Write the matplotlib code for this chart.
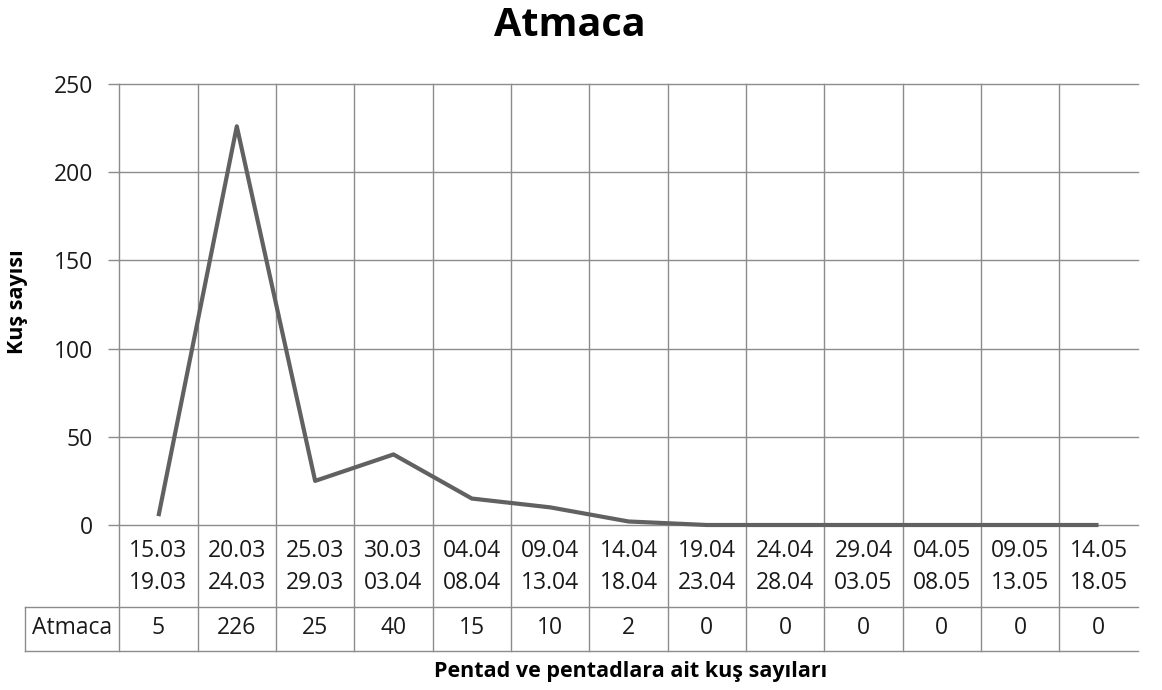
import matplotlib
matplotlib.use("Agg")
import matplotlib.pyplot as plt
import matplotlib.transforms as mtransforms

# Pentad periods (start / end) and bird counts
pentad_start = ["15.03", "20.03", "25.03", "30.03", "04.04", "09.04", "14.04",
                "19.04", "24.04", "29.04", "04.05", "09.05", "14.05"]
pentad_end = ["19.03", "24.03", "29.03", "03.04", "08.04", "13.04", "18.04",
              "23.04", "28.04", "03.05", "08.05", "13.05", "18.05"]
atmaca_counts = [5, 226, 25, 40, 15, 10, 2, 0, 0, 0, 0, 0, 0]
series_name = "Atmaca"
y_ticks = [0, 50, 100, 150, 200, 250]

FONT = ["Open Sans", "DejaVu Sans"]
plt.rcParams["font.family"] = FONT

W, H = 1162, 690
fig = plt.figure(figsize=(W / 100, H / 100), dpi=100)
fig.patch.set_facecolor("white")

left_px, right_px, top_px, bottom_px = 119.3, 1137.7, 84, 525
ax = fig.add_axes([left_px / W, (H - bottom_px) / H,
                   (right_px - left_px) / W, (bottom_px - top_px) / H])

n = len(atmaca_counts)
ax.set_xlim(-0.5, n - 0.5)
ax.set_ylim(0, 250)

grid_c = "#8c8c8c"
line_c = "#616161"
txt_c = "#1a1a1a"
FS = 16.5

# horizontal gridlines (extended left as tick marks)
ax.set_yticks(y_ticks)
ax.set_yticklabels([str(v) for v in y_ticks], fontsize=FS, color=txt_c)
ax.tick_params(axis="y", length=8, width=1.0, color=grid_c, pad=11)
for v in y_ticks:
    ax.axhline(v, color=grid_c, lw=1.0, zorder=1, clip_on=False)
ax.set_xticks([])

for s in ax.spines.values():
    s.set_visible(False)

# category boundaries: gridlines through the plot and the data table
row1_bottom = -(607 - bottom_px) / (bottom_px - top_px)
row2_bottom = -(651 - bottom_px) / (bottom_px - top_px)
trans = mtransforms.blended_transform_factory(ax.transData, ax.transAxes)
for b in range(n):
    x = b - 0.5
    ax.plot([x, x], [row2_bottom, 1.0], transform=trans, color=grid_c,
            lw=1.0, clip_on=False, zorder=1)

# table horizontal rules and left cell
px_per_unit = (right_px - left_px) / n
x_label_left = -0.5 - (left_px - 25) / px_per_unit
x_label_mid = -0.5 - (left_px - 72) / px_per_unit
for yy in (row1_bottom, row2_bottom):
    ax.plot([x_label_left, n - 0.5], [yy, yy], transform=trans, color=grid_c,
            lw=1.0, clip_on=False)
ax.plot([x_label_left, x_label_left], [row1_bottom, row2_bottom],
        transform=trans, color=grid_c, lw=1.0, clip_on=False)

# data line
ax.plot(range(n), atmaca_counts, color=line_c, lw=3.0, zorder=3,
        solid_capstyle="butt", clip_on=False)

# table text
y_l1 = -(551 - bottom_px) / (bottom_px - top_px)
y_l2 = -(583 - bottom_px) / (bottom_px - top_px)
y_v = -(628 - bottom_px) / (bottom_px - top_px)
for i in range(n):
    ax.text(i, y_l1, pentad_start[i], transform=trans, ha="center",
            va="center", fontsize=FS, color=txt_c)
    ax.text(i, y_l2, pentad_end[i], transform=trans, ha="center",
            va="center", fontsize=FS, color=txt_c)
    ax.text(i, y_v, str(atmaca_counts[i]), transform=trans, ha="center",
            va="center", fontsize=FS, color=txt_c)
ax.text(x_label_mid, y_v, series_name, transform=trans, ha="center",
        va="center", fontsize=FS, color=txt_c)

# titles
fig.text(570 / W, 1 - 25 / H, "Atmaca", ha="center", va="center",
         fontsize=28.5, fontweight="bold", color="black")
fig.text(18 / W, 1 - 302 / H, "Kuş sayısı", ha="center", va="center",
         rotation=90, fontsize=15.5, fontweight="bold", color="black")
fig.text(631 / W, 1 - 671 / H, "Pentad ve pentadlara ait kuş sayıları",
         ha="center", va="center", fontsize=15.5, fontweight="bold",
         color="black")

fig.savefig("out.png", dpi=100, facecolor="white")
